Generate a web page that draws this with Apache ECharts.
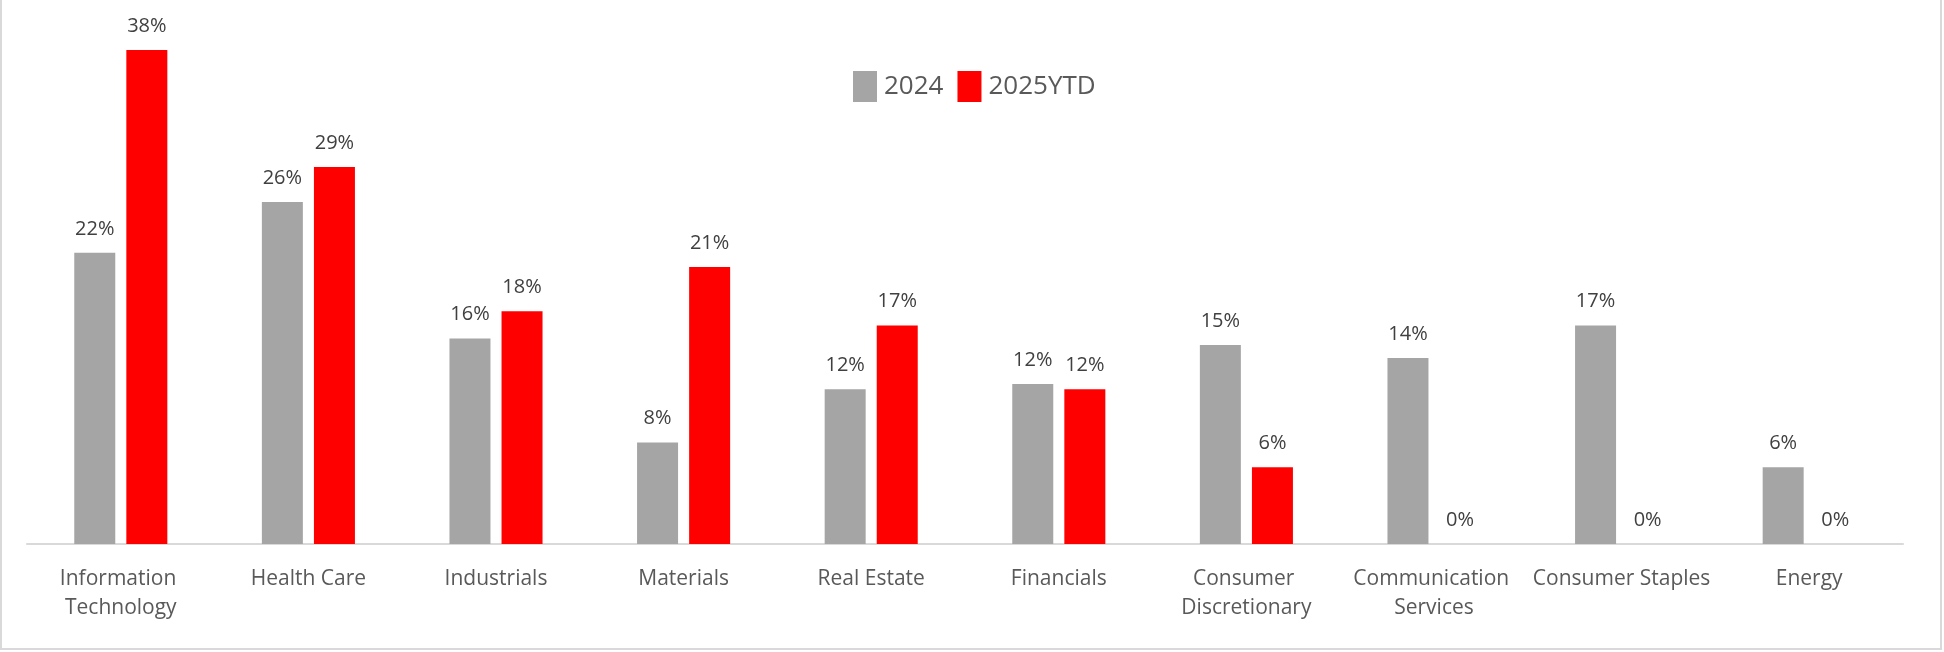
<!DOCTYPE html>
<html>
<head>
<meta charset="utf-8">
<script src="https://cdn.jsdelivr.net/npm/echarts@6/dist/echarts.min.js"></script>
<style>
    html, body { margin: 0; padding: 0; background: #fff; }
    #chart1 {
        position: absolute; left: 0; top: 0;
        width: 1938px; height: 648px;
        border: 2px solid #d9d9d9; border-top: none;
        background: #fff;
    }
</style>
</head>
<body>
<div id="chart1"></div>
<script>
    // sectors, left to right
    var categories = ['Information Technology', 'Health Care', 'Industrials', 'Materials', 'Real Estate',
        'Financials', 'Consumer Discretionary', 'Communication Services', 'Consumer Staples', 'Energy'];

    // returns in %
    var data2024 = [22.4, 26.3, 15.8, 7.8, 11.9, 12.3, 15.3, 14.3, 16.8, 5.9];
    var data2025ytd = [38.0, 29.0, 17.9, 21.3, 16.8, 11.9, 5.9, 0, 0, 0];

    var seriesNames = ['2024', '2025YTD'];

    var FONT = '"Open Sans", "Noto Sans", sans-serif';

    //label for every bar
    function pctLabel(p) {
        return Math.round(p.value) + '%';
    }

    function makeSeries(name, data, color) {
        return {
            type: 'bar',
            name: name,
            data: data,
            barWidth: 41,
            barGap: '27%',
            itemStyle: { color: color },
            label: {
                show: true,
                position: 'top',
                distance: 14,
                formatter: pctLabel,
                color: '#404040',
                fontFamily: FONT,
                fontSize: 20
            }
        };
    }

    var chart = echarts.init(document.getElementById('chart1'));

    var option = {
        animation: false,
        legend: {
            left: 846,
            top: 66,
            itemWidth: 24,
            itemHeight: 31,
            itemGap: 14,
            icon: 'rect',
            textStyle: {
                color: '#595959',
                fontFamily: FONT,
                fontSize: 26,
                padding: [0, 0, 0, 2]
            },
            data: seriesNames
        },
        grid: {
            left: 25,
            right: 37,
            top: 24,
            bottom: 104
        },
        xAxis: {
            type: 'category',
            data: categories,
            axisLine: { lineStyle: { color: '#d9d9d9', width: 2 } },
            axisTick: { show: false },
            axisLabel: {
                interval: 0,
                margin: 21,
                width: 186,
                overflow: 'break',
                lineHeight: 29,
                color: '#595959',
                fontFamily: FONT,
                fontSize: 21
            }
        },
        yAxis: {
            type: 'value',
            min: 0,
            max: 40,
            show: false,
            splitLine: { show: false }
        },
        series: [
            makeSeries(seriesNames[0], data2024, '#a5a5a5'),
            makeSeries(seriesNames[1], data2025ytd, '#ff0000')
        ]
    };

    chart.setOption(option, true);
</script>
</body>
</html>
